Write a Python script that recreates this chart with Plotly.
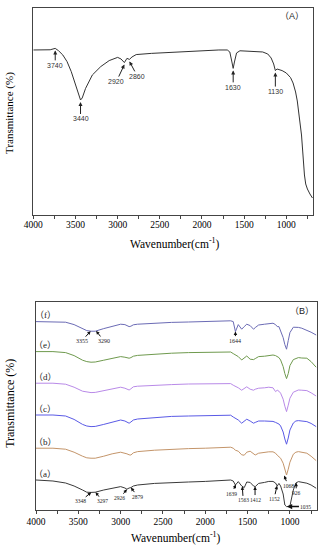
import numpy as np
import plotly.graph_objects as go

# ---------------- Panel A data ----------------
wn_a = [4000, 3900, 3800, 3740, 3700, 3650, 3600, 3550, 3500, 3460, 3440, 3420, 3380, 3300,
        3200, 3100, 3000, 2960, 2920, 2890, 2860, 2830, 2780, 2600, 2400, 2200, 2000, 1800,
        1700, 1670, 1645, 1630, 1615, 1590, 1550, 1450, 1350, 1280, 1220, 1180, 1150, 1130,
        1110, 1090, 1050, 1000, 950, 920, 890, 870, 850, 830, 820, 805, 795, 785, 770, 750,
        720, 690]
trans_a = [82.5, 82.5, 82.6, 83.3, 82.1, 80.0, 76.7, 71.7, 65.0, 59.2, 57.5, 58.5, 63.3, 70.0,
           74.2, 77.2, 78.8, 78.0, 76.2, 78.3, 77.8, 79.0, 80.2, 80.8, 81.3, 81.8, 82.1, 82.5,
           82.5, 81.5, 76.5, 73.3, 76.5, 81.0, 82.1, 82.0, 81.8, 81.5, 80.5, 78.5, 75.5, 72.2,
           73.0, 72.7, 72.2, 71.0, 68.7, 66.0, 61.5, 57.0, 51.0, 44.5, 40.0, 31.5, 25.0, 20.0,
           15.5, 13.0, 10.5, 8.5]
peaks_a = [3740, 3440, 2920, 2860, 1630, 1130]

# ---------------- Panel B data ----------------
wn_b = [4000, 3800, 3650, 3550, 3450, 3400, 3350, 3300, 3200, 3100, 3000, 2950, 2926, 2900,
        2879, 2850, 2800, 2600, 2400, 2200, 2000, 1800, 1700, 1670, 1644, 1610, 1570, 1540,
        1510, 1470, 1430, 1410, 1370, 1300, 1250, 1200, 1170, 1150, 1130, 1110, 1080, 1060,
        1040, 1020, 1000, 960, 930, 900, 860, 800, 750, 690]
trans_f = [94.2, 94.2, 93.9, 92.7, 90.7, 89.7, 89.4, 89.4, 90.7, 91.9, 92.9, 92.7, 92.2, 91.7,
           91.9, 92.6, 92.9, 93.4, 93.8, 94.0, 94.2, 94.4, 94.6, 94.2, 89.2, 92.7, 90.4, 91.7,
           92.9, 92.2, 90.4, 91.2, 92.5, 92.9, 93.2, 93.4, 92.7, 91.7, 91.7, 89.7, 86.2, 82.7,
           80.4, 84.7, 88.7, 91.4, 91.5, 91.3, 90.9, 89.9, 88.9, 87.5]
trans_e = [79.2, 79.2, 78.7, 77.2, 74.9, 74.2, 73.9, 74.0, 74.9, 75.9, 76.7, 76.4, 76.2, 75.9,
           76.2, 76.9, 77.3, 77.9, 78.4, 78.7, 78.9, 79.0, 79.0, 78.2, 77.4, 76.7, 75.0, 76.2,
           77.0, 75.4, 75.2, 75.7, 76.7, 76.9, 77.2, 77.5, 77.2, 76.7, 76.2, 75.0, 71.7, 68.2,
           65.7, 68.2, 72.2, 75.2, 75.9, 76.2, 76.0, 75.9, 74.2, 71.4]
trans_d = [63.4, 63.4, 62.9, 61.4, 59.4, 58.9, 58.7, 58.8, 59.6, 60.6, 61.4, 60.9, 60.4, 60.0,
           60.6, 61.6, 61.9, 62.4, 62.7, 63.0, 63.1, 63.2, 63.2, 62.4, 61.9, 61.1, 59.9, 60.9,
           61.6, 60.4, 59.9, 60.4, 60.9, 61.1, 61.4, 61.1, 59.2, 59.9, 59.4, 58.4, 55.4, 51.9,
           49.2, 52.4, 55.9, 58.9, 59.6, 60.0, 59.9, 59.7, 58.6, 57.0]
trans_c = [47.5, 47.5, 47.0, 45.3, 42.8, 42.0, 41.7, 41.8, 42.8, 44.0, 45.0, 44.5, 44.0, 43.4,
           44.0, 45.0, 45.5, 46.3, 46.8, 47.0, 47.2, 47.4, 47.4, 46.5, 45.8, 45.0, 43.4, 44.5,
           45.4, 44.5, 43.4, 43.8, 44.5, 44.5, 44.5, 44.3, 43.8, 43.4, 43.0, 42.0, 39.0, 35.5,
           32.9, 36.0, 40.0, 43.5, 44.5, 44.7, 44.5, 44.2, 43.3, 41.7]
trans_b = [30.9, 30.9, 30.4, 28.9, 26.9, 26.1, 25.9, 25.9, 26.9, 28.1, 28.9, 28.6, 28.1, 27.6,
           27.5, 28.6, 29.2, 29.9, 30.4, 30.7, 30.9, 31.1, 31.4, 30.9, 29.9, 29.4, 27.6, 27.4,
           28.9, 29.4, 28.1, 27.5, 28.4, 28.9, 29.1, 29.1, 28.4, 27.4, 26.7, 25.9, 23.4, 19.9,
           17.5, 20.4, 23.9, 27.9, 28.9, 29.2, 28.9, 28.4, 26.9, 24.7]
trans_a2 = [15.0, 14.5, 13.5, 12.0, 10.0, 8.9, 8.8, 8.9, 10.0, 11.0, 11.7, 11.0, 10.4, 11.0,
            11.2, 12.0, 12.5, 13.3, 13.8, 14.0, 14.3, 14.8, 15.0, 14.5, 12.5, 14.2, 12.0, 11.2,
            14.0, 13.8, 12.0, 11.7, 13.3, 13.8, 14.3, 14.3, 13.5, 12.0, 13.3, 12.0, 8.0, 2.5,
            1.7, 1.7, 2.0, 10.0, 13.5, 14.2, 13.8, 13.4, 12.5, 10.9]
sample_labels = ["f", "e", "d", "c", "b", "a"]
peaks_f = [3355, 3290, 1644]
peaks_a2 = [3348, 3297, 2926, 2879, 1639, 1563, 1412, 1152, 926, 1068]
peak_1035 = 1035

tick_vals = [4000, 3500, 3000, 2500, 2000, 1500, 1000]
minor_vals = [3750, 3250, 2750, 2250, 1750, 1250, 750]

# ---------------- styling ----------------
SERIF = "Times New Roman, Liberation Serif, DejaVu Serif, serif"
SANS = "Arial, Liberation Sans, Helvetica, sans-serif"
CJK_SERIF = "Times New Roman, Liberation Serif, Noto Sans CJK SC, serif"
CJK_SANS = "Arial, Liberation Sans, Noto Sans CJK SC, sans-serif"
frame = "#444444"
colors_b = ["#6b6bb5", "#6f9a4e", "#b98ae8", "#5a5ae6", "#c4956a", "#3a3a3a"]

fig = go.Figure()
fig.add_trace(go.Scatter(x=wn_a, y=trans_a, mode="lines", line=dict(color="#333333", width=1),
                         xaxis="x", yaxis="y", showlegend=False, hoverinfo="skip"))
series_b = [trans_f, trans_e, trans_d, trans_c, trans_b, trans_a2]
for vals, col, lab in zip(series_b, colors_b, sample_labels):
    fig.add_trace(go.Scatter(x=wn_b, y=vals, mode="lines", line=dict(color=col, width=1),
                             xaxis="x2", yaxis="y2", name=lab, showlegend=False, hoverinfo="skip"))


def xaxis_cfg(domain, anchor, fs, standoff):
    return dict(domain=domain, anchor=anchor, range=[4000, 680], showline=True, linecolor=frame,
                linewidth=1, mirror=True, showgrid=False, zeroline=False,
                tickvals=tick_vals, ticks="outside", ticklen=3, tickcolor=frame,
                minor=dict(tickvals=minor_vals, ticks="outside", ticklen=3, tickcolor=frame),
                ticklabelstandoff=standoff,
                tickfont=dict(family=SERIF, size=fs, color="black"), automargin=False)


def yaxis_cfg(domain, anchor, rng):
    return dict(domain=domain, anchor=anchor, range=rng, showline=True, linecolor=frame,
                linewidth=1, mirror=True, showgrid=False, zeroline=False, showticklabels=False,
                ticks="", automargin=False)


fig.update_layout(
    width=328, height=550, margin=dict(l=0, r=0, t=0, b=0),
    paper_bgcolor="white", plot_bgcolor="white",
    xaxis=xaxis_cfg([0.1015, 0.9552], "y", 9.5, -2),
    yaxis=yaxis_cfg([0.6091, 0.9855], "x", [0, 103.5]),
    xaxis2=xaxis_cfg([0.1098, 0.9665], "y2", 9.5, 0),
    yaxis2=yaxis_cfg([0.0727, 0.4509], "x2", [0, 104]),
)

ann = []
# axis titles
title_x = "Wavenumber(cm<sup>-1</sup>)"
title_y = "Transmittance (%)"
c = dict(xanchor="center", yanchor="middle", showarrow=False, xref="paper", yref="paper")
ann.append(dict(x=0.534, y=0.558, text=title_x, font=dict(family=SERIF, size=11.5, color="black"), **c))
ann.append(dict(x=0.537, y=0.022, text=title_x, font=dict(family=SERIF, size=11.5, color="black"), **c))
ann.append(dict(x=0.031, y=0.795, text=title_y, textangle=-90,
                font=dict(family=SERIF, size=11, color="black"), **c))
ann.append(dict(x=0.031, y=0.266, text=title_y, textangle=-90,
                font=dict(family=SERIF, size=12, color="black"), **c))

# Panel A peak labels
offs_a = [(0, 15), (0, 17), (-8, 17), (8, 15), (0, 17), (0, 19)]
for wn, (dx, dy) in zip(peaks_a, offs_a):
    yv = float(np.interp(wn, wn_a[::-1], trans_a[::-1]))
    ann.append(dict(x=wn, y=yv - 1, xref="x", yref="y", text=str(wn), showarrow=True,
                    ax=dx, ay=dy, arrowhead=2, arrowsize=0.8, arrowwidth=1, arrowcolor="#222",
                    font=dict(family=SANS, size=7, color="#333")))
ann.append(dict(x=0.89, y=0.971, text="（A）",
                font=dict(family=CJK_SANS, size=9, color="#222"), **c))

# Panel B peak labels
offs_f = [(-9, 10), (8, 10), (0, 9)]
for wn, (dx, dy) in zip(peaks_f, offs_f):
    yv = float(np.interp(wn, wn_b[::-1], trans_f[::-1]))
    ann.append(dict(x=wn, y=yv, xref="x2", yref="y2", text=str(wn), showarrow=True,
                    ax=dx, ay=dy, arrowhead=2, arrowsize=0.7, arrowwidth=1, arrowcolor="#111",
                    font=dict(family=SERIF, size=6, color="#222")))
offs_a2 = [(-11, 9), (7, 9), (-7, 9), (7, 9), (-4, 9), (1, 14), (0, 13), (-3, 13), (0, 10), (4, 10)]
for wn, (dx, dy) in zip(peaks_a2, offs_a2):
    yv = float(np.interp(wn, wn_b[::-1], trans_a2[::-1]))
    if wn == 1068:
        yv = yv + 12.5  # arrow sits above the steep flank, label just below it
    ann.append(dict(x=wn, y=yv, xref="x2", yref="y2", text=str(wn), showarrow=True,
                    ax=dx, ay=dy, arrowhead=2, arrowsize=0.7, arrowwidth=1, arrowcolor="#111",
                    font=dict(family=SERIF, size=5.5, color="#222")))
# 1035: horizontal arrow pointing left to the band minimum
y1035 = float(np.interp(peak_1035, wn_b[::-1], trans_a2[::-1]))
ann.append(dict(x=peak_1035, y=y1035, xref="x2", yref="y2", text=str(peak_1035), showarrow=True,
                ax=19, ay=0, arrowhead=2, arrowsize=0.7, arrowwidth=1.5, arrowcolor="#111",
                font=dict(family=SERIF, size=5.5, color="#222")))

# sample labels (a)-(f)
for vals, lab in zip(series_b, sample_labels):
    ann.append(dict(x=3890, y=vals[0] + 3.2, xref="x2", yref="y2", text="（" + lab + "）",
                    xanchor="center", yanchor="middle",
                    showarrow=False, font=dict(family=CJK_SERIF, size=9, color="#222")))
ann.append(dict(x=0.92, y=0.435, text="（B）",
                font=dict(family=CJK_SANS, size=9, color="#222"), **c))

fig.update_layout(annotations=ann)
fig.write_html("out.html", config={"displayModeBar": False},
               post_script="document.body.style.margin='0';document.body.style.overflow='hidden';")
